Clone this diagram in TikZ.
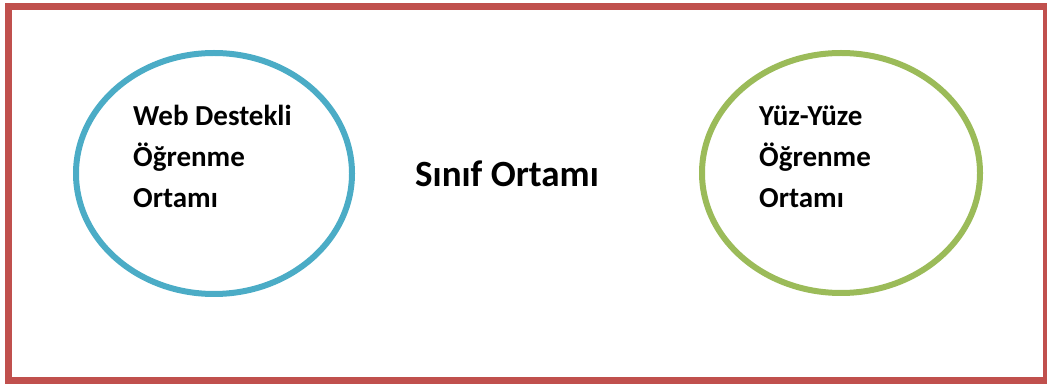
\documentclass[tikz,border=0pt]{standalone}
\usepackage{fontspec}
\setmainfont{Carlito}
\usepackage{xcolor}
\usetikzlibrary{shapes.geometric, positioning}

\definecolor{frame}{HTML}{C0504D}
\definecolor{webblue}{HTML}{4BACC6}
\definecolor{yuzgreen}{HTML}{9BBB59}

\begin{document}
\begin{tikzpicture}[
    x=1pt, y=1pt,
    ring/.style={
        ellipse, draw, line width=6pt, inner sep=0pt,
        minimum width=276pt, minimum height=241pt
    },
    lbl/.style={
        align=left, anchor=base west, inner sep=0pt,
        font=\bfseries\fontsize{29}{41}\selectfont
    }
]
    \useasboundingbox (0,0) rectangle (1047,383);
    \draw[frame, line width=7pt] (8.5,3) rectangle (1046.5,376.5);

    \node[ring, draw=webblue] (web) at (214,209.5) {};
    \node[ring, draw=yuzgreen, minimum width=278pt, minimum height=240pt] (yuz) at (841,210) {};

    % base anchor sits on the last line
    \node[lbl] (webtxt) at (133,175) {Web Destekli\\Öğrenme\\Ortamı};
    \node[lbl] (yuztxt) at (759,175) {Yüz-Yüze\\Öğrenme\\Ortamı};
    \node[font=\bfseries\fontsize{37}{44}\selectfont, anchor=base, inner sep=0pt]
        (sinif) at (507,196) {Sınıf Ortamı};
\end{tikzpicture}
\end{document}
